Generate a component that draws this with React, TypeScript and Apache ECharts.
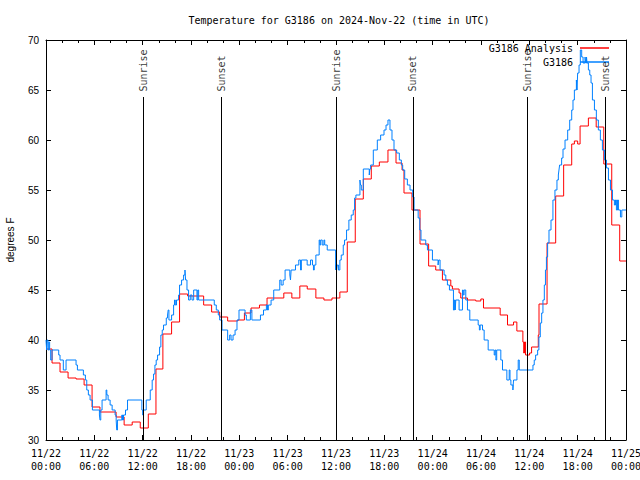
import React, { useEffect, useRef } from "react";
import * as echarts from "echarts";

const titleText = "Temperature for G3186 on 2024-Nov-22 (time in UTC)";
const seriesNames = ["G3186 Analysis", "G3186"];
const tickLabels = [
  "11/22\n00:00", "11/22\n06:00", "11/22\n12:00", "11/22\n18:00",
  "11/23\n00:00", "11/23\n06:00", "11/23\n12:00", "11/23\n18:00",
  "11/24\n00:00", "11/24\n06:00", "11/24\n12:00", "11/24\n18:00",
  "11/25\n00:00",
];

// hours since 11/22 00:00 UTC, degrees F (value held until next reading)
const analysisReadings: [number, number][] = [
  [0, 39.1], [0.75, 37.7], [1.74, 36.8], [2.74, 36.2], [3.73, 36.1], [4.73, 35.5],
  [5.72, 33.3], [6.7, 32.8], [8.7, 32.3], [9.7, 31.5], [10.7, 31.8], [11.7, 31.2],
  [12.7, 32.6], [13.65, 37.1], [14.51, 40.6], [15.59, 41.8], [16.58, 44.6], [17.58, 44.4],
  [19.57, 43.5], [20.56, 42.8], [21.56, 42.3], [22.55, 41.9], [23.8, 42.0], [24.63, 42.7],
  [25.45, 43.2], [26.5, 43.5], [27.44, 44.2], [29.52, 44.7], [30.52, 44.2], [31.51, 45.4],
  [32.43, 45.1], [33.5, 44.2], [34.5, 44.0], [35.5, 44.2], [36.48, 44.8], [37.4, 49.8],
  [38.39, 54.1], [39.39, 56.1], [40.38, 57.4], [41.38, 57.8], [42.45, 59.0], [43.45, 57.7],
  [44.2, 57.0], [44.44, 54.7], [45.43, 53.0], [46.43, 49.6], [47.5, 47.4], [48.38, 47.0],
  [49.21, 46.0], [50.25, 45.4], [50.45, 45.1], [51.28, 44.7], [51.49, 44.2], [52.32, 44.0],
  [53.35, 43.9], [53.98, 44.1], [54.31, 43.2], [56.38, 42.5], [57.29, 41.5], [58.04, 41.8],
  [58.45, 40.9], [59.2, 39.8], [59.3, 38.7], [59.4, 39.8], [59.53, 38.5], [60.03, 38.7],
  [60.28, 39.3], [61.11, 40.5], [61.2, 43.6], [62.2, 49.7], [63.27, 54.4], [64.26, 57.5],
  [65.26, 59.6], [65.59, 59.9], [66.0, 59.6], [66.3, 61.4], [67.33, 62.2], [68.3, 61.3],
  [69.24, 57.6], [70.23, 51.5], [71.22, 47.9], [72, 47.9],
];

const stationReadings: [number, number][] = [
  [0, 40.0], [0.08, 39.0], [0.15, 40.0], [0.25, 39.0], [0.35, 39.8], [0.45, 39.0], [0.58, 38.0],
  [0.75, 39.0], [1.58, 38.5], [1.74, 38.0], [2.15, 37.0], [2.49, 38.0], [3.73, 37.5], [3.9, 37.0],
  [4.64, 36.5], [4.89, 36.0], [5.06, 35.0], [5.26, 34.5], [5.47, 34.0], [5.76, 33.0], [6.63, 32.5],
  [6.7, 32.0], [6.8, 33.0], [6.96, 34.0], [7.46, 35.0], [7.55, 34.5], [7.71, 34.0], [7.96, 33.5],
  [8.21, 33.0], [8.58, 32.5], [8.71, 32.0], [8.78, 31.0], [8.87, 32.0], [9.41, 32.5], [9.5, 32.0],
  [9.62, 32.5], [9.87, 33.0], [10.12, 34.0], [11.9, 33.0], [12.0, 32.5], [12.1, 33.0], [12.44, 34.0],
  [12.94, 35.0], [13.18, 36.0], [13.35, 36.6], [13.52, 37.5], [13.68, 38.0], [13.85, 38.5], [14.1, 39.3],
  [14.26, 40.5], [14.43, 41.0], [14.59, 41.5], [14.93, 42.2], [15.09, 42.5], [15.17, 43.0], [15.26, 42.0],
  [15.59, 42.5], [15.84, 43.5], [15.95, 44.0], [16.05, 43.5], [16.2, 44.0], [16.46, 44.5], [16.58, 45.5],
  [16.83, 46.0], [17.08, 46.5], [17.25, 47.0], [17.33, 46.0], [17.5, 45.0], [17.7, 44.0], [17.91, 44.5],
  [18.12, 44.0], [18.33, 45.0], [18.74, 44.0], [18.84, 45.0], [18.95, 44.0], [20.89, 43.5], [21.14, 43.0],
  [21.39, 42.5], [21.56, 42.0], [21.85, 41.0], [22.55, 40.0], [22.8, 40.5], [22.97, 40.0], [23.22, 40.5],
  [23.47, 41.0], [23.71, 42.0], [23.96, 43.0], [24.71, 42.5], [24.87, 42.0], [25.37, 43.0], [25.56, 42.0],
  [26.62, 42.5], [27.0, 43.0], [27.36, 43.5], [27.5, 43.0], [27.6, 43.5], [27.94, 44.0], [28.27, 45.0],
  [29.02, 46.0], [29.19, 45.5], [29.44, 46.0], [29.68, 47.0], [30.27, 46.5], [30.35, 46.0], [30.43, 47.0],
  [30.97, 47.5], [31.38, 48.0], [31.6, 47.0], [31.7, 48.0], [32.42, 47.5], [32.84, 48.0], [33.08, 47.5],
  [33.2, 47.0], [33.3, 47.5], [33.5, 48.5], [33.91, 50.0], [34.0, 49.5], [34.1, 50.0], [34.29, 49.5],
  [34.5, 50.0], [34.6, 49.5], [34.91, 49.0], [35.95, 47.0], [36.0, 47.5], [36.07, 47.0], [36.15, 47.5],
  [36.3, 47.0], [36.48, 48.0], [36.65, 48.5], [36.9, 49.5], [37.06, 50.0], [37.31, 51.0], [37.6, 52.0],
  [37.89, 52.5], [38.14, 53.0], [38.31, 54.2], [38.47, 54.5], [38.97, 56.0], [39.05, 55.5], [39.14, 55.0],
  [39.39, 57.1], [40.13, 56.5], [40.2, 57.1], [40.3, 57.5], [40.63, 59.0], [41.13, 60.0], [41.54, 60.5],
  [41.96, 61.0], [42.21, 61.5], [42.45, 62.0], [42.7, 61.0], [42.95, 60.0], [43.2, 59.0], [43.53, 58.7],
  [43.86, 58.0], [44.11, 57.5], [44.28, 57.0], [44.53, 56.1], [44.86, 55.5], [45.19, 55.0], [45.52, 54.3],
  [45.69, 53.0], [46.2, 52.2], [46.4, 51.0], [46.55, 50.0], [47.14, 49.5], [47.35, 49.0], [47.97, 48.0],
  [48.67, 47.5], [48.75, 48.0], [48.92, 47.0], [49.42, 46.5], [49.63, 46.0], [49.83, 45.5], [50.08, 45.0],
  [50.58, 43.0], [50.7, 44.0], [50.8, 43.0], [50.87, 44.0], [51.28, 43.0], [51.7, 45.0], [51.8, 44.5],
  [51.9, 45.0], [52.11, 44.0], [52.32, 43.0], [52.61, 42.0], [53.65, 41.5], [53.8, 41.0], [53.9, 41.5],
  [54.19, 41.0], [54.39, 40.0], [54.89, 39.0], [55.64, 38.5], [55.75, 39.0], [55.85, 38.0], [55.95, 39.0],
  [56.46, 38.0], [56.67, 37.0], [57.21, 36.0], [57.5, 37.0], [57.6, 36.0], [57.71, 35.5], [57.96, 35.0],
  [58.04, 36.0], [58.46, 37.0], [58.62, 38.0], [58.75, 37.0], [60.45, 37.5], [60.61, 38.0], [60.78, 38.5],
  [61.03, 39.0], [61.19, 40.3], [61.36, 41.7], [61.53, 42.7], [61.69, 44.0], [61.86, 45.5], [62.0, 47.0],
  [62.12, 48.3], [62.27, 49.7], [62.44, 51.0], [62.69, 52.0], [62.93, 54.0], [63.18, 55.0], [63.43, 56.0],
  [63.6, 56.5], [63.68, 57.0], [63.76, 57.5], [64.01, 58.2], [64.18, 59.1], [64.43, 60.0], [64.76, 61.0],
  [65.01, 62.0], [65.26, 63.0], [65.42, 64.0], [65.59, 65.0], [65.84, 66.0], [65.92, 65.0], [66.0, 66.7],
  [66.17, 67.5], [66.33, 69.0], [66.5, 68.3], [66.67, 67.7], [66.92, 68.3], [67.0, 67.7], [67.1, 68.3],
  [67.16, 67.7], [67.33, 67.0], [67.5, 66.5], [67.66, 65.7], [67.83, 64.0], [68.08, 63.0], [68.32, 62.0],
  [68.57, 61.0], [68.82, 60.0], [69.07, 59.0], [69.32, 58.0], [69.57, 57.2], [69.82, 56.0], [70.07, 55.0],
  [70.32, 54.0], [70.56, 53.5], [70.7, 54.0], [70.81, 53.0], [70.95, 54.0], [71.06, 53.0], [71.31, 52.3],
  [71.48, 53.0], [72, 53.0],
];

const eventHours = [12.1, 21.76, 36.0, 45.55, 59.72, 69.42];
const eventNames = ["Sunrise", "Sunset", "Sunrise", "Sunset", "Sunrise", "Sunset"];
const eventLineTop = 64.3;

const MONO = "DejaVu Sans Mono";
const SANS = "Liberation Sans";

export default function App() {
  const ref = useRef<HTMLDivElement>(null);
  useEffect(() => {
    if (!ref.current) return;
    const chart = echarts.init(ref.current, null, { renderer: "svg" });
    const axisCommon = {
      axisLine: { show: true, onZero: false, lineStyle: { color: "#000", width: 1 } },
      splitLine: { show: false },
    };
    chart.setOption({
      animation: false,
      backgroundColor: "#fff",
      title: {
        text: titleText,
        left: 334,
        top: 10,
        textAlign: "center",
        textStyle: { fontFamily: MONO, fontSize: 10, fontWeight: "normal", color: "#000" },
      },
      legend: {
        data: seriesNames,
        orient: "vertical",
        right: 31,
        top: 42,
        padding: 0,
        align: "right",
        icon: "rect",
        itemWidth: 29,
        itemHeight: 1.5,
        itemGap: 2,
        textStyle: { fontFamily: MONO, fontSize: 10, color: "#000", lineHeight: 12, padding: [0, 2, 0, 0] },
      },
      grid: { left: 46, right: 14, top: 40, bottom: 40, containLabel: false, outerBoundsMode: "none" },
      xAxis: [
        {
          type: "value", min: 0, max: 72, interval: 6, position: "bottom",
          ...axisCommon,
          axisTick: { show: true, inside: true, length: 5, lineStyle: { color: "#000" } },
          minorTick: { show: true, splitNumber: 3, length: 3, lineStyle: { color: "#000" } },
          axisLabel: {
            margin: 7,
            fontFamily: MONO, fontSize: 10, color: "#000", lineHeight: 13,
            formatter: (v: number) => tickLabels[Math.round(v / 6)] ?? "",
          },
        },
        {
          type: "value", min: 0, max: 72, interval: 6, position: "top",
          ...axisCommon,
          axisTick: { show: true, inside: true, length: 5, lineStyle: { color: "#000" } },
          minorTick: { show: true, splitNumber: 3, length: 3, lineStyle: { color: "#000" } },
          axisLabel: { show: false },
        },
      ],
      yAxis: [
        {
          type: "value", min: 30, max: 70, interval: 5, position: "left",
          ...axisCommon,
          axisTick: { show: true, inside: true, length: 5, lineStyle: { color: "#000" } },
          axisLabel: { margin: 7, fontFamily: SANS, fontSize: 10, color: "#000" },
          name: "degrees F",
          nameLocation: "middle",
          nameGap: 31,
          nameRotate: 90,
          nameTextStyle: { fontFamily: SANS, fontSize: 10, color: "#000" },
        },
        {
          type: "value", min: 30, max: 70, interval: 5, position: "right",
          ...axisCommon,
          axisTick: { show: true, inside: true, length: 5, lineStyle: { color: "#000" } },
          axisLabel: { show: false },
        },
      ],
      series: [
        {
          name: seriesNames[0],
          type: "line",
          step: "end",
          showSymbol: false,
          symbol: "none",
          data: analysisReadings,
          lineStyle: { color: "#ff0000", width: 1 },
          itemStyle: { color: "#ff0000" },
          z: 3,
        },
        {
          name: seriesNames[1],
          type: "line",
          step: "end",
          showSymbol: false,
          symbol: "none",
          data: stationReadings,
          lineStyle: { color: "#0080ff", width: 1 },
          itemStyle: { color: "#0080ff" },
          z: 4,
        },
        {
          name: "events",
          type: "scatter",
          symbolSize: 1,
          itemStyle: { color: "rgba(0,0,0,0)" },
          data: eventHours.map((h) => [h, eventLineTop]),
          label: {
            show: true,
            position: "top",
            distance: 5,
            rotate: 90,
            align: "left",
            verticalAlign: "middle",
            fontFamily: MONO,
            fontSize: 10,
            color: "#000",
            formatter: (p: any) => eventNames[p.dataIndex],
          },
          markLine: {
            silent: true,
            symbol: ["none", "none"],
            label: { show: false },
            lineStyle: { color: "#000", width: 1, type: "solid" },
            data: eventHours.map((h) => [{ coord: [h, 30] }, { coord: [h, eventLineTop] }]),
          },
          z: 5,
        },
      ],
    });
    return () => chart.dispose();
  }, []);
  return (
    <div
      ref={ref}
      style={{ position: "fixed", left: 0, top: 0, width: 640, height: 480, background: "#fff" }}
    />
  );
}
